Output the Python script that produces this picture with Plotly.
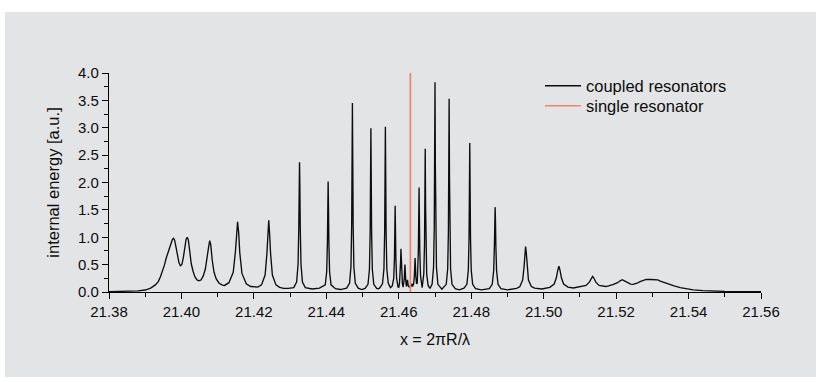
import plotly.graph_objects as go

# ---------------- data ----------------
# coupled resonators spectrum (x = 2*pi*R/lambda, internal energy [a.u.])
seg_left_x = [21.3800, 21.3850, 21.3880, 21.3900, 21.3915, 21.3928, 21.3936, 21.3942, 21.3948, 21.3953,
              21.3958, 21.3962, 21.3967, 21.3971, 21.3975, 21.3978, 21.3981, 21.3985, 21.3989, 21.3993,
              21.3997, 21.4001, 21.4005, 21.4009, 21.4013, 21.4016, 21.4019, 21.4023, 21.4027, 21.4032,
              21.4037, 21.4043, 21.4048, 21.4054, 21.4060, 21.4066, 21.4071, 21.4075, 21.4078, 21.4081,
              21.4085, 21.4090, 21.4096, 21.4104, 21.4113, 21.4119,
              21.4131, 21.4143, 21.4149, 21.4152, 21.4155, 21.4158, 21.4161, 21.4167, 21.4179, 21.4191,
              21.4204, 21.4211, 21.4221, 21.4231, 21.4236, 21.42385, 21.4241, 21.42435, 21.4246, 21.4251,
              21.4261, 21.4271, 21.4282, 21.4295]
seg_left_y = [0.005, 0.012, 0.022, 0.036, 0.070, 0.13, 0.19, 0.28, 0.38, 0.49,
              0.62, 0.71, 0.80, 0.90, 0.96, 0.98, 0.95, 0.82, 0.66, 0.54,
              0.48, 0.50, 0.62, 0.82, 0.97, 1.00, 0.95, 0.74, 0.52, 0.38,
              0.28, 0.22, 0.205, 0.22, 0.29, 0.42, 0.60, 0.82, 0.94, 0.86,
              0.58, 0.36, 0.24, 0.16, 0.125, 0.12,
              0.17, 0.36, 0.74, 1.09, 1.28, 1.08, 0.72, 0.34, 0.15, 0.10,
              0.085, 0.09, 0.13, 0.31, 0.71, 1.05, 1.31, 1.05, 0.71, 0.31,
              0.13, 0.085, 0.065, 0.065]

seg_mid_x = [21.4310, 21.4318, 21.4322, 21.4324, 21.4325, 21.4326, 21.4327, 21.4328, 21.4330, 21.4334,
             21.4342, 21.4361, 21.4381, 21.4397, 21.4401, 21.4403, 21.4404, 21.4405, 21.4406, 21.4407,
             21.4409, 21.4413, 21.4425, 21.4439, 21.4456, 21.4464, 21.4468, 21.4470, 21.4471, 21.4472,
             21.4473, 21.4474, 21.4476, 21.4480, 21.4488, 21.4498, 21.4507, 21.4515, 21.4519, 21.4521,
             21.4522, 21.4523, 21.4524, 21.4525, 21.4527, 21.4531, 21.4539, 21.4543, 21.4547, 21.4555,
             21.4559, 21.4561, 21.4562, 21.4563, 21.4564, 21.4565, 21.4567, 21.4571, 21.4577, 21.4582,
             21.4586, 21.4588, 21.4589, 21.4590, 21.4591, 21.4592, 21.4594, 21.4598, 21.4600, 21.4602,
             21.4604, 21.4605, 21.4606, 21.4607, 21.4608, 21.4610, 21.4612, 21.4614, 21.4615, 21.4616,
             21.4617, 21.4618, 21.4619, 21.4620, 21.4621, 21.4622, 21.4623, 21.4624, 21.4625, 21.4626,
             21.4628, 21.4630, 21.4632, 21.4634, 21.4636, 21.4638, 21.4640, 21.4641, 21.4643, 21.4644,
             21.4645, 21.4646, 21.4647, 21.4649, 21.4651, 21.4652, 21.4654, 21.4655, 21.4656, 21.4657,
             21.4658, 21.4660, 21.46645, 21.4669, 21.4671, 21.4672, 21.4673, 21.4674, 21.4675, 21.4677,
             21.4681, 21.4686, 21.4692, 21.4696, 21.4698, 21.4699, 21.4700, 21.4701, 21.4702, 21.4704,
             21.4708, 21.4719, 21.4731, 21.4735, 21.4737, 21.4738, 21.4739, 21.4740, 21.4741, 21.4743,
             21.4747, 21.4756, 21.4767, 21.4780, 21.4788, 21.4792, 21.4794, 21.4795, 21.4796, 21.4797,
             21.4798, 21.4800, 21.4804, 21.4812, 21.4828]
seg_mid_y = [0.08, 0.18, 0.51, 1.19, 1.90, 2.37, 1.90, 1.19, 0.51, 0.18,
             0.08, 0.055, 0.07, 0.13, 0.37, 0.91, 1.54, 2.02, 1.54, 0.91,
             0.37, 0.13, 0.06, 0.045, 0.07, 0.16, 0.46, 1.24, 2.38, 3.45,
             2.38, 1.24, 0.46, 0.16, 0.07, 0.045, 0.066, 0.14, 0.41, 1.08,
             2.06, 2.99, 2.06, 1.08, 0.41, 0.14, 0.066, 0.06, 0.07, 0.15,
             0.42, 1.09, 2.08, 3.02, 2.08, 1.09, 0.42, 0.16, 0.08, 0.11,
             0.25, 0.60, 1.09, 1.575, 1.09, 0.60, 0.25, 0.09, 0.085, 0.16,
             0.33, 0.55, 0.79, 0.55, 0.33, 0.15, 0.09, 0.16, 0.23, 0.38,
             0.50, 0.38, 0.23, 0.14, 0.10, 0.12, 0.17, 0.22, 0.17, 0.12,
             0.09, 0.11, 0.08, 0.12, 0.15, 0.10, 0.13, 0.15, 0.29, 0.48,
             0.62, 0.48, 0.29, 0.15, 0.16, 0.30, 0.75, 1.32, 1.91, 1.32,
             0.75, 0.30, 0.08, 0.33, 0.85, 1.60, 2.615, 1.60, 0.85, 0.33,
             0.12, 0.065, 0.14, 0.45, 1.20, 2.30, 3.83, 2.30, 1.20, 0.45,
             0.14, 0.05, 0.14, 0.42, 1.10, 2.10, 3.53, 2.10, 1.10, 0.42,
             0.14, 0.06, 0.04, 0.07, 0.14, 0.40, 1.00, 1.85, 2.72, 1.85,
             1.00, 0.40, 0.14, 0.06, 0.04]

seg_right_x = [21.4850, 21.4858, 21.4862, 21.4864, 21.4865, 21.4866, 21.4867, 21.4868, 21.4870, 21.4874,
               21.4882, 21.4900, 21.4925, 21.4934, 21.4942, 21.4946, 21.4948, 21.4950, 21.4952, 21.4954,
               21.4958, 21.4966, 21.4975, 21.4995, 21.5017, 21.5029, 21.5035, 21.5039, 21.5042, 21.5045,
               21.5049, 21.5055, 21.5067, 21.5082, 21.5105, 21.5117, 21.5126, 21.5131, 21.5135, 21.5139,
               21.5144, 21.5153, 21.5165, 21.5172, 21.5191, 21.5204, 21.5211, 21.5217, 21.5223, 21.5230,
               21.5240, 21.5247, 21.5258, 21.5266, 21.5274, 21.5283, 21.5295, 21.5305, 21.5315, 21.5322,
               21.5330, 21.5340, 21.5349, 21.5360, 21.5377, 21.5395, 21.5413, 21.5440, 21.5468, 21.5500,
               21.5560, 21.5600]
seg_right_y = [0.06, 0.14, 0.39, 0.85, 1.29, 1.55, 1.29, 0.85, 0.39, 0.14,
               0.06, 0.04, 0.067, 0.095, 0.22, 0.47, 0.72, 0.83, 0.72, 0.47,
               0.22, 0.10, 0.07, 0.055, 0.085, 0.145, 0.26, 0.40, 0.47, 0.40,
               0.26, 0.145, 0.09, 0.073, 0.095, 0.12, 0.18, 0.25, 0.285, 0.25,
               0.18, 0.12, 0.10, 0.10, 0.135, 0.17, 0.205, 0.225, 0.205, 0.175,
               0.145, 0.14, 0.16, 0.19, 0.215, 0.23, 0.228, 0.228, 0.222, 0.20,
               0.18, 0.16, 0.14, 0.11, 0.08, 0.055, 0.04, 0.025, 0.017, 0.011,
               0.006, 0.004]

coupled_x = seg_left_x + seg_mid_x + seg_right_x
coupled_y = seg_left_y + seg_mid_y + seg_right_y

# single resonator: a single sharp line
single_x = [21.4632, 21.4632]
single_y = [0.0, 4.0]

series_names = ["coupled resonators", "single resonator"]
x_tick_vals = [21.38, 21.40, 21.42, 21.44, 21.46, 21.48, 21.50, 21.52, 21.54, 21.56]
x_tick_text = ["21.38", "21.40", "21.42", "21.44", "21.46", "21.48", "21.50", "21.52", "21.54", "21.56"]
y_tick_vals = [0.0, 0.5, 1.0, 1.5, 2.0, 2.5, 3.0, 3.5, 4.0]
y_tick_text = ["0.0", "0.5", "1.0", "1.5", "2.0", "2.5", "3.0", "3.5", "4.0"]

# ---------------- figure ----------------
FONT = "Liberation Sans, Arial, Helvetica, sans-serif"
PANEL = "#e3e4e5"
INK = "#0d0d0d"

fig = go.Figure()
fig.add_trace(go.Scatter(x=coupled_x, y=coupled_y, mode="lines", name=series_names[0],
                         line=dict(color=INK, width=1.35), legend="legend"))
fig.add_trace(go.Scatter(x=single_x, y=single_y, mode="lines", name=series_names[1],
                         line=dict(color="#e8896c", width=1.7), legend="legend2"))

L, R, T, B = 109, 55, 73, 90
W, H = 816, 382
pw, ph = W - L - R, H - T - B

def px_to_paper_x(p):
    return (p - L) / pw

def px_to_paper_y(p):
    return (H - B - p) / ph

# gray panel behind everything (white border at top/left/bottom)
fig.add_shape(type="rect", xref="paper", yref="paper",
              x0=px_to_paper_x(5), x1=px_to_paper_x(830),
              y0=px_to_paper_y(377), y1=px_to_paper_y(12),
              fillcolor=PANEL, line=dict(width=0), layer="below")

axis_common = dict(showgrid=False, zeroline=False, showline=True, linecolor="black", linewidth=1.3,
                   ticks="outside", ticklen=6, tickwidth=1.3, tickcolor="black", automargin=False,
                   tickfont=dict(family=FONT, size=15, color=INK))

legend_common = dict(xanchor="left", yanchor="middle", bgcolor="rgba(0,0,0,0)", borderwidth=0,
                     itemwidth=36, font=dict(family=FONT, size=16.5, color=INK))

fig.update_layout(
    width=W, height=H,
    margin=dict(l=L, r=R, t=T, b=B, pad=0),
    paper_bgcolor="white", plot_bgcolor="rgba(0,0,0,0)",
    font=dict(family=FONT, color=INK),
    xaxis=dict(range=[21.38, 21.56], tickmode="array", tickvals=x_tick_vals, ticktext=x_tick_text,
               minor=dict(dtick=0.01, tick0=21.38, ticks="outside", ticklen=4, tickwidth=1.3, tickcolor="black"),
               title=dict(text="x = 2πR/λ", font=dict(family=FONT, size=16, color=INK), standoff=14),
               **axis_common),
    yaxis=dict(range=[0, 4.0], tickmode="array", tickvals=y_tick_vals, ticktext=y_tick_text,
               minor=dict(dtick=0.25, tick0=0, ticks="outside", ticklen=4, tickwidth=1.3, tickcolor="black"),
               title=dict(text="internal energy [a.u.]", font=dict(family=FONT, size=16.5, color=INK), standoff=14),
               **axis_common),
    legend=dict(x=px_to_paper_x(540), y=px_to_paper_y(86), **legend_common),
    legend2=dict(x=px_to_paper_x(540), y=px_to_paper_y(106), **legend_common),
    showlegend=True,
)

fig.write_html("out.html", config={"displayModeBar": False},
               post_script="document.body.style.margin='0px';document.body.style.padding='0px';")
